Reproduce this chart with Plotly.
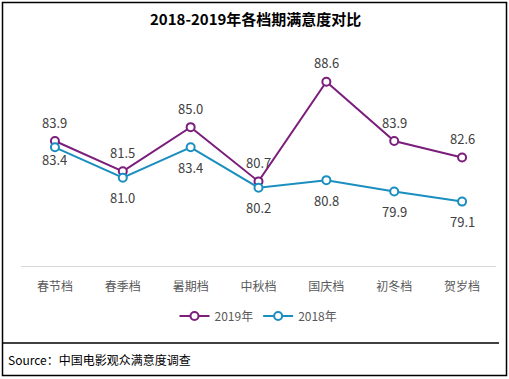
import plotly.graph_objects as go

categories = ["春节档", "春季档", "暑期档", "中秋档", "国庆档", "初冬档", "贺岁档"]
values_2019 = [83.9, 81.5, 85.0, 80.7, 88.6, 83.9, 82.6]
values_2018 = [83.4, 81.0, 83.4, 80.2, 80.8, 79.9, 79.1]
series_names = ["2019年", "2018年"]
title_text = "2018-2019年各档期满意度对比"
source_text = "Source：中国电影观众满意度调查"

COL_2019 = "#7B1E7C"
COL_2018 = "#1B8EC0"
FONT = "Noto Sans CJK SC, Microsoft YaHei, sans-serif"
LABEL_COLOR = "#404040"

fig = go.Figure()
for name, vals, col in [(series_names[0], values_2019, COL_2019),
                        (series_names[1], values_2018, COL_2018)]:
    fig.add_trace(go.Scatter(
        x=categories, y=vals, name=name, mode="lines+markers",
        line=dict(color=col, width=2),
        marker=dict(size=8, color="white", line=dict(color=col, width=2)),
        hoverinfo="x+y",
    ))

# data labels
shift_2019 = [19] * len(values_2019)
shift_2018 = [-12] + [-20] * (len(values_2018) - 1)
for vals, shifts in [(values_2019, shift_2019), (values_2018, shift_2018)]:
    for c, v, s in zip(categories, vals, shifts):
        fig.add_annotation(x=c, y=v, text=f"{v:.1f}", showarrow=False,
                           yshift=s, font=dict(size=13, color=LABEL_COLOR, family=FONT))


def px_x(p):
    return (p - 21) / 475


def px_y(p):
    return (266 - p) / 202


# title
fig.add_annotation(xref="paper", yref="paper", x=px_x(255), y=px_y(18),
                   text=f"<b>{title_text}</b>", showarrow=False, xanchor="center", yanchor="middle",
                   font=dict(size=15, color="#000000", family=FONT))
# source
fig.add_annotation(xref="paper", yref="paper", x=px_x(6), y=px_y(359),
                   text=source_text, showarrow=False, xanchor="left", yanchor="middle",
                   font=dict(size=12, color="#000000", family=FONT))

# outer border
fig.add_shape(type="rect", xref="paper", yref="paper",
              x0=px_x(2.5), x1=px_x(506.5), y0=px_y(375.5), y1=px_y(2.5),
              line=dict(color="#000000", width=1.5), fillcolor="rgba(0,0,0,0)")
# separator line
fig.add_shape(type="line", xref="paper", yref="paper",
              x0=px_x(3), x1=px_x(499), y0=px_y(343), y1=px_y(343),
              line=dict(color="#000000", width=1.5))

fig.update_layout(
    width=509, height=379,
    margin=dict(l=21, r=13, t=64, b=113),
    paper_bgcolor="white", plot_bgcolor="white",
    font=dict(family=FONT, color="#595959"),
    showlegend=True,
    legend=dict(orientation="h", x=0.5, xanchor="center", y=px_y(316), yanchor="middle",
                font=dict(size=12, color="#595959", family=FONT), itemwidth=30,
                bgcolor="rgba(0,0,0,0)", traceorder="normal"),
    xaxis=dict(type="category", range=[-0.5, 6.5], showline=True, linecolor="#d9d9d9",
               linewidth=1, showgrid=False, zeroline=False, ticks="",
               tickfont=dict(size=12, color="#595959", family=FONT), ticklabelstandoff=10),
    yaxis=dict(range=[74, 90], visible=False, showgrid=False, zeroline=False),
)

fig.write_html("out.html", config={"displayModeBar": False},
               post_script="document.body.style.margin='0';document.body.style.overflow='hidden';")
